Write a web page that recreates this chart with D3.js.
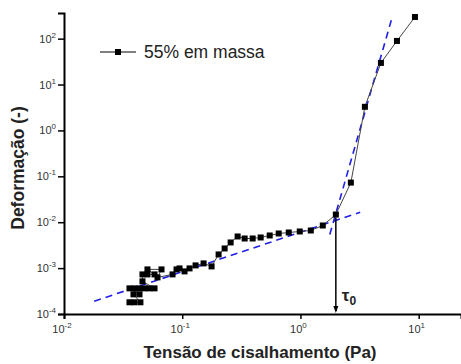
<!DOCTYPE html>
<html>
<head>
<meta charset="utf-8">
<script src="https://cdn.jsdelivr.net/npm/d3@7"></script>
<style>
  body { margin: 0; background: #fff; }
  text { font-family: "Liberation Sans", Arial, sans-serif; }
</style>
</head>
<body>
<div id="chart"></div>
<script>
// stress sweep, 55% em massa
const stress = [0.0358, 0.0394, 0.0443,
  0.0387, 0.0435,
  0.0358, 0.0394, 0.0435, 0.0479, 0.0528, 0.0583,
  0.0461, 0.0461, 0.0508, 0.0583, 0.0508, 0.0668, 0.0618, 0.0828, 0.0895, 0.0949, 0.1046,
  0.1153, 0.1297, 0.1516, 0.1771, 0.2031, 0.2284, 0.2567, 0.2942, 0.3373, 0.3943, 0.4609,
  0.5494, 0.6548, 0.7962, 0.9864, 1.223, 1.545, 1.992, 2.669, 3.507, 4.792, 6.548, 9.30];
const strain = [1.80e-4, 1.80e-4, 1.80e-4,
  2.68e-4, 2.68e-4,
  3.62e-4, 3.62e-4, 3.62e-4, 3.62e-4, 3.62e-4, 3.62e-4,
  5.14e-4, 7.29e-4, 7.29e-4, 7.29e-4, 9.37e-4, 9.37e-4, 6.28e-4, 7.29e-4, 9.37e-4, 9.85e-4, 8.48e-4,
  9.85e-4, 1.145e-3, 1.266e-3, 1.089e-3, 1.985e-3, 2.68e-3, 3.62e-3, 4.89e-3, 4.42e-3, 4.42e-3, 4.65e-3,
  5.14e-3, 5.68e-3, 5.97e-3, 6.28e-3, 6.60e-3, 8.48e-3, 1.47e-2, 7.30e-2, 3.27, 29.6, 89.1, 296];

// dashed fit lines (start / end)
const fitLowX = [0.018, 3.2];
const fitLowY = [1.9e-4, 0.0165];
const fitHighX = [1.77, 5.94];
const fitHighY = [5.4e-3, 282];
const tau0 = 1.992;

const xTickExp = [-2, -1, 0, 1];
const yTickExp = [-4, -3, -2, -1, 0, 1, 2];
const legendLabel = "55% em massa";

const width = 461, height = 364;
const margin = {top: 13, right: 0, bottom: 50, left: 64};

const svg = d3.select("#chart").append("svg")
  .attr("width", width)
  .attr("height", height);

const x = d3.scaleLog()
  .domain([0.01, 22.8])
  .range([margin.left, width - margin.right]);

const y = d3.scaleLog()
  .domain([1e-4, 362])
  .range([height - margin.bottom, margin.top]);

// axes
const xAxis = svg.append("g")
  .attr("transform", `translate(0,${height - margin.bottom})`)
  .call(d3.axisBottom(x).tickValues(xTickExp.map(e => Math.pow(10, e))).tickSize(5).tickFormat(""));
xAxis.select(".domain").attr("stroke-width", 2);
xAxis.selectAll(".tick line").attr("stroke-width", 1.5);

const yAxis = svg.append("g")
  .attr("transform", `translate(${margin.left},0)`)
  .call(d3.axisLeft(y).tickValues(yTickExp.map(e => Math.pow(10, e))).tickSize(6).tickFormat(""));
yAxis.select(".domain").attr("stroke-width", 2);
yAxis.selectAll(".tick line").attr("stroke-width", 1.5);

// tick labels as 10 with superscript
function powLabel(g, e) {
  g.append("tspan").text("10");
  g.append("tspan").attr("dy", -5).attr("font-size", 8).text(e);
}

xTickExp.forEach(e => {
  const t = svg.append("text")
    .attr("x", x(Math.pow(10, e)) - 2)
    .attr("y", height - margin.bottom + 19)
    .attr("text-anchor", "middle")
    .attr("font-size", 11)
    .attr("fill", "#333");
  powLabel(t, e);
});

yTickExp.forEach(e => {
  const t = svg.append("text")
    .attr("x", margin.left - 8)
    .attr("y", y(Math.pow(10, e)) + 4)
    .attr("text-anchor", "end")
    .attr("font-size", 11)
    .attr("fill", "#333");
  powLabel(t, e);
});

// axis titles
svg.append("text")
  .attr("x", 260)
  .attr("y", 358)
  .attr("text-anchor", "middle")
  .attr("font-size", 17)
  .attr("font-weight", "bold")
  .attr("fill", "#222")
  .text("Tensão de cisalhamento (Pa)");

svg.append("text")
  .attr("transform", "translate(24,168) rotate(-90)")
  .attr("text-anchor", "middle")
  .attr("font-size", 17.5)
  .attr("font-weight", "bold")
  .attr("fill", "#222")
  .text("Deformação (-)");

// fits
const fitLine = d3.line().x(d => x(d[0])).y(d => y(d[1]));
[[fitLowX, fitLowY], [fitHighX, fitHighY]].forEach(([fx, fy]) => {
  svg.append("path")
    .attr("d", fitLine(d3.zip(fx, fy)))
    .attr("fill", "none")
    .attr("stroke", "#1f1fe6")
    .attr("stroke-width", 1.6)
    .attr("stroke-dasharray", "7,5");
});

// data
const pts = d3.zip(stress, strain);
svg.append("path")
  .attr("d", fitLine(pts))
  .attr("fill", "none")
  .attr("stroke", "#444")
  .attr("stroke-width", 1);

const sq = 6;
svg.selectAll(".pt")
  .data(pts)
  .enter()
  .append("rect")
    .attr("class", "pt")
    .attr("x", d => x(d[0]) - sq / 2)
    .attr("y", d => y(d[1]) - sq / 2)
    .attr("width", sq)
    .attr("height", sq)
    .attr("fill", "#000");

// tau0 arrow
const tauIdx = stress.indexOf(tau0);
const xa = x(tau0);
svg.append("line")
  .attr("x1", xa).attr("x2", xa)
  .attr("y1", y(strain[tauIdx]) + 3)
  .attr("y2", height - margin.bottom - 3)
  .attr("stroke", "#000")
  .attr("stroke-width", 1.5);
svg.append("path")
  .attr("d", `M${xa - 2.5},${height - margin.bottom - 8} L${xa + 2.5},${height - margin.bottom - 8} L${xa},${height - margin.bottom - 1} Z`)
  .attr("fill", "#000");

const tauText = svg.append("text")
  .attr("x", xa + 6)
  .attr("y", 301)
  .attr("font-size", 17)
  .attr("font-weight", "bold")
  .attr("fill", "#222");
tauText.append("tspan").text("τ");
tauText.append("tspan").attr("dy", 4).attr("font-size", 12).text("0");

// legend
const lg = svg.append("g").attr("transform", "translate(100,52)");
lg.append("line").attr("x1", 0).attr("x2", 36).attr("y1", 0).attr("y2", 0)
  .attr("stroke", "#000").attr("stroke-width", 1);
lg.append("rect").attr("x", 18 - sq / 2).attr("y", -sq / 2).attr("width", sq).attr("height", sq).attr("fill", "#000");
lg.append("text")
  .attr("x", 44)
  .attr("y", 6)
  .attr("font-size", 17.5)
  .attr("fill", "#222")
  .text(legendLabel);
</script>
</body>
</html>
